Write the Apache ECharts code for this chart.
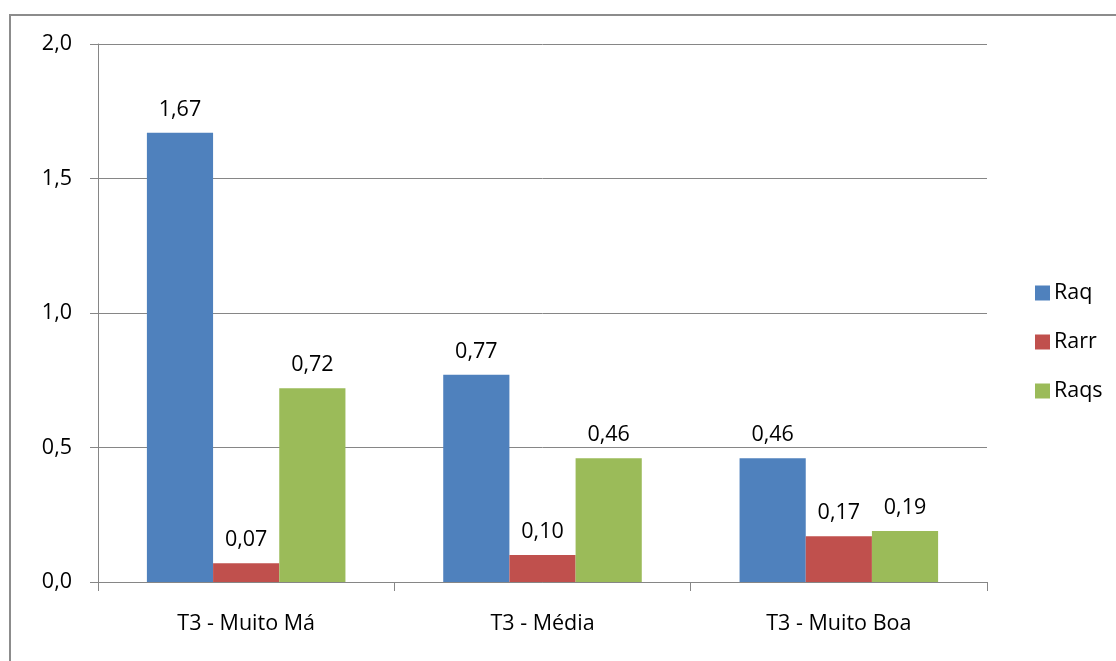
<!DOCTYPE html>
<html><head><meta charset="utf-8">
<script src="https://cdn.jsdelivr.net/npm/echarts@6/dist/echarts.min.js"></script>
<style>html,body{margin:0;padding:0;background:#fff}#c{width:1116px;height:661px}</style>
</head><body><div id="c"></div>
<script>
const categories = ['T3 - Muito Má', 'T3 - Média', 'T3 - Muito Boa'];
const raq = [1.67, 0.77, 0.46];
const rarr = [0.07, 0.10, 0.17];
const raqs = [0.72, 0.46, 0.19];
const seriesNames = ['Raq', 'Rarr', 'Raqs'];
const colors = ['#4F81BD', '#C0504D', '#9BBB59'];

const font = '"Open Sans", sans-serif';
const fs = 21.5;
const fmt = v => v.toFixed(2).replace('.', ',');
function mk(name, data, color) {
  return {
    name, type: 'bar', data, barGap: '0%', barCategoryGap: '33%',
    itemStyle: { color },
    label: { show: true, position: 'top', distance: 12, color: '#000', fontFamily: font, fontSize: fs,
      formatter: p => fmt(p.value) }
  };
}
const chart = echarts.init(document.getElementById('c'));
chart.setOption({
  animation: false,
  textStyle: { fontFamily: font },
  graphic: [{ type: 'rect', shape: { x: 10, y: 15, width: 1200, height: 700 }, style: { fill: 'none', stroke: '#8c8c8c', lineWidth: 2 }, silent: true }],
  grid: { left: 98, right: 129, top: 44, bottom: 79, containLabel: false },
  legend: {
    orient: 'vertical', left: 1030, top: 277, itemWidth: 15, itemHeight: 15, itemGap: 27,
    icon: 'rect', textStyle: { fontFamily: font, fontSize: fs, color: '#000', padding: [0,0,0,-1] },
    data: seriesNames
  },
  xAxis: {
    type: 'category', data: categories,
    axisLine: { lineStyle: { color: '#868686', width: 1 } },
    axisTick: { show: true, length: 9, lineStyle: { color: '#868686' } },
    axisLabel: { color: '#000', fontSize: fs, fontFamily: font, margin: 31 }
  },
  yAxis: {
    type: 'value', min: 0, max: 2, interval: 0.5,
    axisLine: { show: true, lineStyle: { color: '#868686' } },
    axisTick: { show: true, length: 8, lineStyle: { color: '#868686' } },
    splitLine: { lineStyle: { color: '#868686', width: 1 } },
    axisLabel: { color: '#000', fontSize: fs, fontFamily: font, margin: 26, formatter: v => v.toFixed(1).replace('.', ',') }
  },
  series: [mk(seriesNames[0], raq, colors[0]), mk(seriesNames[1], rarr, colors[1]), mk(seriesNames[2], raqs, colors[2])]
});
</script></body></html>
